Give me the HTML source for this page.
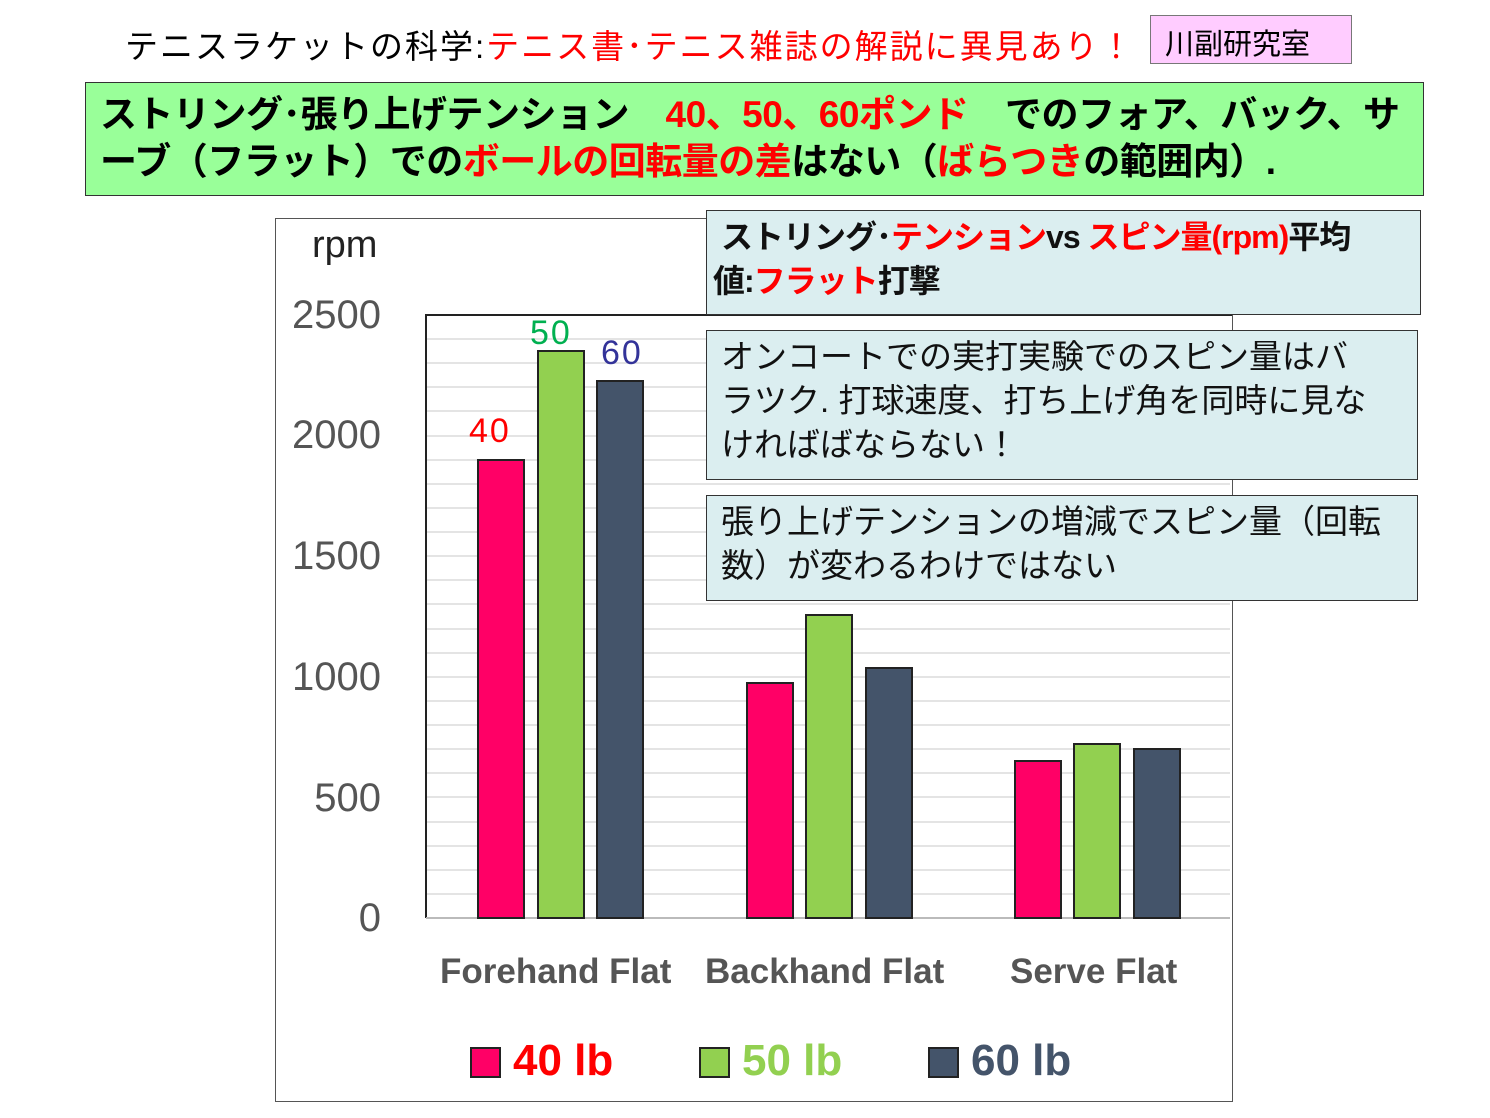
<!DOCTYPE html>
<html><head><meta charset="utf-8"><style>
body{margin:0;width:1490px;height:1118px;background:#fff;position:relative;overflow:hidden;font-family:"Liberation Sans","Noto Sans CJK JP",sans-serif}
.a{position:absolute;white-space:nowrap}
.r{color:#f00}
.bar{position:absolute;border:2px solid #222;box-sizing:border-box}
.p{background:#ff0066}.g{background:#92d050}.n{background:#44546a}
.box{position:absolute;background:#dbeef0;border:1.5px solid #333;box-sizing:border-box;font-size:33px;line-height:44px;padding:4px 14px;color:#111;white-space:nowrap}
</style></head><body>
<div class="a" style="left:125px;top:20px;font-size:33px;letter-spacing:2px">テニスラケットの科学:<span class="r">テニス書･テニス雑誌の解説に異見あり！</span></div>
<div class="a" style="left:1150px;top:15px;width:202px;height:49px;background:#ffccff;border:1.5px solid #777;box-sizing:border-box;font-size:29px;padding:5px 0 0 14px">川副研究室</div>
<div class="a" style="left:85px;top:82px;width:1339px;height:114px;background:#99ff99;border:1.5px solid #333;box-sizing:border-box;font-size:37px;line-height:47px;padding:8px 0 0 14px;font-weight:bold;letter-spacing:-0.5px">ストリング･張り上げテンション　<span class="r">40、50、60ポンド</span>　でのフォア、バック、サ<br>ーブ（フラット）での<span class="r">ボールの回転量の差</span>はない（<span class="r">ばらつき</span>の範囲内）.</div>

<div class="a" style="left:275px;top:218px;width:958px;height:884px;border:1.5px solid #555;box-sizing:border-box"></div>
<svg class="a" style="left:0;top:0" width="1490" height="1118">
<g stroke="#e4e4e4" stroke-width="2">
<line x1="427" x2="1230" y1="339" y2="339"/><line x1="427" x2="1230" y1="363" y2="363"/><line x1="427" x2="1230" y1="387" y2="387"/><line x1="427" x2="1230" y1="411" y2="411"/><line x1="427" x2="1230" y1="436" y2="436"/><line x1="427" x2="1230" y1="460" y2="460"/><line x1="427" x2="1230" y1="484" y2="484"/><line x1="427" x2="1230" y1="508" y2="508"/><line x1="427" x2="1230" y1="532" y2="532"/><line x1="427" x2="1230" y1="556" y2="556"/><line x1="427" x2="1230" y1="580" y2="580"/><line x1="427" x2="1230" y1="604" y2="604"/><line x1="427" x2="1230" y1="629" y2="629"/><line x1="427" x2="1230" y1="653" y2="653"/><line x1="427" x2="1230" y1="677" y2="677"/><line x1="427" x2="1230" y1="701" y2="701"/><line x1="427" x2="1230" y1="725" y2="725"/><line x1="427" x2="1230" y1="749" y2="749"/><line x1="427" x2="1230" y1="773" y2="773"/><line x1="427" x2="1230" y1="797" y2="797"/><line x1="427" x2="1230" y1="822" y2="822"/><line x1="427" x2="1230" y1="846" y2="846"/><line x1="427" x2="1230" y1="870" y2="870"/><line x1="427" x2="1230" y1="894" y2="894"/>
</g>
<path d="M426 918V315H1232" fill="none" stroke="#222" stroke-width="2"/>
<line x1="426" x2="1230" y1="918" y2="918" stroke="#bbb" stroke-width="2"/>
</svg>
<div class="bar p" style="left:477px;top:459px;width:48px;height:460px"></div>
<div class="bar g" style="left:537px;top:350px;width:48px;height:569px"></div>
<div class="bar n" style="left:596px;top:380px;width:48px;height:539px"></div>
<div class="bar p" style="left:746px;top:682px;width:48px;height:237px"></div>
<div class="bar g" style="left:805px;top:614px;width:48px;height:305px"></div>
<div class="bar n" style="left:865px;top:667px;width:48px;height:252px"></div>
<div class="bar p" style="left:1014px;top:760px;width:48px;height:159px"></div>
<div class="bar g" style="left:1073px;top:743px;width:48px;height:176px"></div>
<div class="bar n" style="left:1133px;top:748px;width:48px;height:171px"></div>
<div class="a r" style="left:469px;top:412px;font-size:34px;letter-spacing:2px">40</div>
<div class="a" style="left:530px;top:314px;font-size:34px;color:#00b050;letter-spacing:2px">50</div>
<div class="a" style="left:601px;top:334px;font-size:34px;color:#333399;letter-spacing:2px">60</div>
<div class="a" style="left:312px;top:224px;font-size:38px;color:#222">rpm</div>
<div class="a" style="left:283px;top:292px;font-size:40px;color:#555;width:98px;text-align:right;line-height:46px">2500</div>
<div class="a" style="left:283px;top:412px;font-size:40px;color:#555;width:98px;text-align:right;line-height:46px">2000</div>
<div class="a" style="left:283px;top:533px;font-size:40px;color:#555;width:98px;text-align:right;line-height:46px">1500</div>
<div class="a" style="left:283px;top:654px;font-size:40px;color:#555;width:98px;text-align:right;line-height:46px">1000</div>
<div class="a" style="left:283px;top:775px;font-size:40px;color:#555;width:98px;text-align:right;line-height:46px">500</div>
<div class="a" style="left:283px;top:895px;font-size:40px;color:#555;width:98px;text-align:right;line-height:46px">0</div>
<div class="a" style="left:440px;top:952px;font-size:35px;color:#555;font-weight:bold">Forehand Flat</div>
<div class="a" style="left:705px;top:952px;font-size:35px;color:#555;font-weight:bold">Backhand Flat</div>
<div class="a" style="left:1010px;top:952px;font-size:35px;color:#555;font-weight:bold">Serve Flat</div>
<div class="bar p" style="left:470px;top:1047px;width:31px;height:31px"></div>
<div class="a" style="left:513px;top:1036px;font-size:44px;font-weight:bold;color:#f00">40 lb</div>
<div class="bar g" style="left:699px;top:1047px;width:31px;height:31px"></div>
<div class="a" style="left:742px;top:1036px;font-size:44px;font-weight:bold;color:#92d050">50 lb</div>
<div class="bar n" style="left:928px;top:1047px;width:31px;height:31px"></div>
<div class="a" style="left:971px;top:1036px;font-size:44px;font-weight:bold;color:#44546a">60 lb</div>

<div class="box" style="left:706px;top:210px;width:715px;height:105px;font-weight:bold;padding:4px 8px 0 14px;font-size:32px;letter-spacing:-1px">ストリング･<span class="r">テンション</span>vs <span class="r">スピン量(rpm)</span>平均<br><span style="margin-left:-8px">値:<span class="r">フラット</span>打撃</span></div>
<div class="box" style="left:706px;top:330px;width:712px;height:150px">オンコートでの実打実験でのスピン量はバ<br>ラツク. 打球速度、打ち上げ角を同時に見な<br>ければばならない！</div>
<div class="box" style="left:706px;top:495px;width:712px;height:106px">張り上げテンションの増減でスピン量（回転<br>数）が変わるわけではない</div>
</body></html>
